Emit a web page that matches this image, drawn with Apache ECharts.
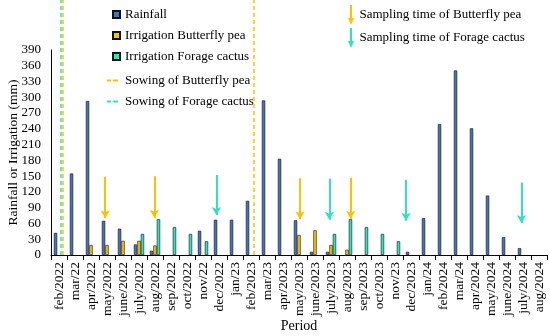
<!DOCTYPE html>
<html><head><meta charset="utf-8">
<script src="https://cdn.jsdelivr.net/npm/echarts@6/dist/echarts.min.js"></script>
<style>html,body{margin:0;padding:0;background:#fff}#c{width:550px;height:336px}</style>
</head><body><div id="c"></div>
<script>
const categories = ['feb/2022','mar/22','apr/2022','may/2022','june/2022','july/2022','aug/2022','sep/2022','oct/2022','nov/22','dec/2022','jan/23','feb/2023','mar/23','apr/2023','may/2023','june/2023','july/2023','aug/2023','sep/2023','oct/2023','nov/23','dec/2023','jan/24','feb/2024','mar/24','apr/2024','may/2024','june/2024','july/2024','aug/2024'];
const rainfall = [42,155,293,65,50,20,8,'-','-',46,67,67,103,294,183,66,6,6,'-','-','-','-',6,70,249,351,241,113,34,13,'-'];
const irrigationButterfly = ['-','-',19,19,27,27,18,'-','-','-','-','-','-','-','-',38,47,19,10,'-','-','-','-','-','-','-','-','-','-','-','-'];
const irrigationCactus = ['-','-','-','-','-',40,68,53,40,26,'-','-','-','-','-','-','-',40,68,53,40,26,'-','-','-','-','-','-','-','-','-'];
const yMin = 0, yMax = 390, yStep = 30;
// sowing and sampling times, in months counted from the start of feb/2022
const sowingButterfly = [0.73, 12.69];
const sowingCactus = [0.60];
const samplingButterfly = [3.39, 6.46, 15.56, 18.73];
const samplingButterflyFrom = [149, 150, 146, 147];
const samplingButterflyTo = [70, 71, 68, 69];
const samplingCactus = [10.34, 17.40, 22.19, 29.40];
const samplingCactusFrom = [152, 145, 143, 138];
const samplingCactusTo = [76, 67, 65, 61];

const C_RAIN = '#4472C4', C_BP = '#FFC000', C_FC = '#2EE3BE';
const FONT = 'Liberation Serif';
const overlayMax = yMax * 255 / 205;
const arrowIcon = 'path://M2,0 L4,0 L4,13 L6,13 L3,20 L0,13 L2,13 Z';

function arrows(xs, from, to) {
  return xs.map((x, i) => [{coord: [x, from[i]]}, {coord: [x, to[i]]}]);
}

const chart = echarts.init(document.getElementById('c'), null, {renderer: 'canvas'});
chart.setOption({
  animation: false,
  textStyle: {fontFamily: FONT, color: '#000'},
  grid: [
    {left: 51, right: 3, top: 50, bottom: 81, outerBoundsMode: 'none', containLabel: false},
    {left: 51, right: 3, top: 0, bottom: 81, outerBoundsMode: 'none', containLabel: false}
  ],
  legend: [
    {data: ['Rainfall','Irrigation Butterfly pea','Irrigation Forage cactus'], orient: 'vertical', left: 107, top: 3,
     itemWidth: 7, itemHeight: 7, itemGap: 8, icon: 'rect', selectedMode: false,
     textStyle: {fontFamily: FONT, fontSize: 13, color: '#000'}},
    {data: ['Sowing of Butterfly pea','Sowing of Forage cactus'], orient: 'vertical', left: 101, top: 69,
     itemWidth: 13, itemHeight: 2, itemGap: 8, selectedMode: false,
     textStyle: {fontFamily: FONT, fontSize: 13, color: '#000'}},
    {data: [{name: 'Sampling time of Butterfly pea', icon: arrowIcon}, {name: 'Sampling time of Forage cactus', icon: arrowIcon}],
     orient: 'vertical', left: 343, top: 0, itemWidth: 7, itemHeight: 20, itemGap: 3, selectedMode: false,
     textStyle: {fontFamily: FONT, fontSize: 13, color: '#000'}}
  ],
  xAxis: [
    {type: 'category', data: categories, gridIndex: 0,
     name: 'Period', nameLocation: 'middle', nameGap: 64, nameMoveOverlap: false,
     nameTextStyle: {fontFamily: FONT, fontSize: 14, color: '#000'},
     axisLine: {lineStyle: {color: '#000', width: 1}},
     axisTick: {show: true, length: 5, lineStyle: {color: '#000'}},
     axisLabel: {rotate: 90, interval: 0, margin: 7, fontFamily: FONT, fontSize: 13.5, color: '#000'}},
    {type: 'value', gridIndex: 1, min: 0, max: categories.length, show: false}
  ],
  yAxis: [
    {type: 'value', gridIndex: 0, min: yMin, max: yMax, interval: yStep,
     name: 'Rainfall or Irrigation (mm)', nameLocation: 'middle', nameGap: 31, nameRotate: 90, nameMoveOverlap: false,
     nameTextStyle: {fontFamily: FONT, fontSize: 13.5, color: '#000'},
     axisLine: {show: true, lineStyle: {color: '#000', width: 1}},
     axisTick: {show: false}, splitLine: {show: false},
     axisLabel: {margin: 10, fontFamily: FONT, fontSize: 13, color: '#000'}},
    {type: 'value', gridIndex: 1, min: 0, max: overlayMax, show: false}
  ],
  series: [
    {name: 'Rainfall', type: 'bar', data: rainfall, barWidth: 3.3, barGap: '5%',
     itemStyle: {color: C_RAIN, borderColor: '#111', borderWidth: 0.6}},
    {name: 'Irrigation Butterfly pea', type: 'bar', data: irrigationButterfly, barWidth: 3.3, barGap: '5%',
     itemStyle: {color: C_BP, borderColor: '#111', borderWidth: 0.6}},
    {name: 'Irrigation Forage cactus', type: 'bar', data: irrigationCactus, barWidth: 3.3, barGap: '5%',
     itemStyle: {color: C_FC, borderColor: '#111', borderWidth: 0.6}},
    {name: 'Sowing of Butterfly pea', type: 'line', xAxisIndex: 1, yAxisIndex: 1, data: [], symbol: 'rect',
     color: C_BP, lineStyle: {color: C_BP, type: [4, 3], width: 1.5},
     markLine: {silent: true, symbol: ['none','none'], label: {show: false},
       lineStyle: {color: C_BP, type: [4, 3], width: 1.5},
       data: sowingButterfly.map(v => ({xAxis: v}))}},
    {name: 'Sowing of Forage cactus', type: 'line', xAxisIndex: 1, yAxisIndex: 1, data: [], symbol: 'rect',
     color: C_FC, lineStyle: {color: C_FC, type: [4, 3], width: 1.5},
     markLine: {silent: true, symbol: ['none','none'], label: {show: false},
       lineStyle: {color: C_FC, type: [4, 3], width: 1.5},
       data: sowingCactus.map(v => ({xAxis: v}))}},
    {name: 'Sampling time of Butterfly pea', type: 'line', xAxisIndex: 1, yAxisIndex: 1, data: [], symbol: 'none',
     color: C_BP, itemStyle: {color: C_BP},
     markLine: {silent: true, symbol: ['none','arrow'], symbolSize: [7, 8], label: {show: false},
       lineStyle: {color: C_BP, type: 'solid', width: 2},
       data: arrows(samplingButterfly, samplingButterflyFrom, samplingButterflyTo)}},
    {name: 'Sampling time of Forage cactus', type: 'line', xAxisIndex: 1, yAxisIndex: 1, data: [], symbol: 'none',
     color: C_FC, itemStyle: {color: C_FC},
     markLine: {silent: true, symbol: ['none','arrow'], symbolSize: [7, 8], label: {show: false},
       lineStyle: {color: C_FC, type: 'solid', width: 2},
       data: arrows(samplingCactus, samplingCactusFrom, samplingCactusTo)}}
  ]
});
</script></body></html>
